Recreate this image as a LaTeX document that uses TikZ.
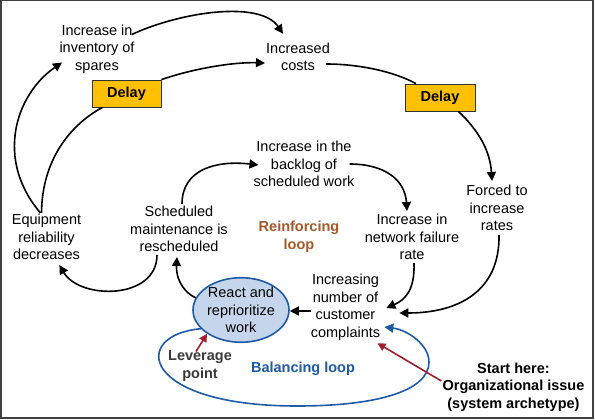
\documentclass[tikz,border=0pt]{standalone}
\usepackage{fontspec}
\setmainfont{Liberation Sans}
\usetikzlibrary{arrows.meta,shapes.geometric,calc}
\definecolor{delayfill}{HTML}{FFC000}
\definecolor{loopblue}{HTML}{1F5AA6}
\definecolor{reactfill}{HTML}{C5D6EC}
\definecolor{reinfcol}{HTML}{A65A28}
\definecolor{levred}{HTML}{A31D2B}
\definecolor{levgray}{HTML}{3A3A3A}
\begin{document}
\begin{tikzpicture}[x=1pt,y=-1pt,
  lbl/.style={align=center,inner sep=0pt,font=\fontsize{14.5}{17.5}\selectfont},
  blbl/.style={lbl,font=\fontsize{14.5}{17.5}\selectfont\bfseries},
  delaybox/.style={draw=black!80,line width=0.8pt,fill=delayfill,minimum width=69pt,minimum height=27pt,inner sep=0pt,font=\fontsize{14.5}{17.5}\selectfont\bfseries},
  arr/.style={line width=1.6pt,-{Triangle[length=9pt,width=9pt]}},
  plain/.style={line width=1.6pt},
  bluearr/.style={arr,draw=loopblue,-{Triangle[length=9pt,width=9pt,color=loopblue]}},
  redarr/.style={line width=1.6pt,draw=levred,-{Triangle[length=8pt,width=8pt,color=levred]}}
]
\useasboundingbox (0,0) rectangle (595,420);
\draw[line width=1.5pt,draw=black!75] (0.75,0.75) rectangle (592.75,418);

% nodes
\node[lbl] (inv) at (97,49) {Increase in\\inventory of\\spares};
\node[lbl] (costs) at (298,57) {Increased\\costs};
\node[delaybox] (delay1) at (126.5,93.5) {Delay};
\node[delaybox,minimum width=70pt] (delay2) at (440,97.5) {Delay};
\node[lbl] (backlog) at (304,164) {Increase in the\\backlog of\\scheduled work};
\node[lbl] (sched) at (179,229) {Scheduled\\maintenance is\\rescheduled};
\node[lbl] (equip) at (46.5,237) {Equipment\\reliability\\decreases};
\node[blbl,text=reinfcol] (reinf) at (299,237) {Reinforcing\\loop};
\node[lbl] (fail) at (412,237) {Increase in\\network failure\\rate};
\node[lbl] (forced) at (497,208) {Forced to\\increase\\rates};
\node[lbl] (compl) at (345.5,307) {Increasing\\number of\\customer\\complaints};
\node[ellipse,draw=loopblue,line width=1.6pt,fill=reactfill,minimum width=96pt,minimum height=60pt,inner sep=0pt,align=center,font=\fontsize{14.5}{17.5}\selectfont] (react) at (241,310) {React and\\reprioritize\\work};
\node[blbl,text=levgray] (lev) at (200,366) {Leverage\\point};
\node[blbl,text=loopblue] (bal) at (303,369) {Balancing loop};
\node[blbl] (start) at (513.5,387) {Start here:\\Organizational issue\\(system archetype)};

% connectors
\draw[arr] ([xshift=-6pt,yshift=1pt]equip.north) .. controls (-5,160) and (15,95) .. ([xshift=-35pt,yshift=11pt]inv.south);
\draw[plain] ([xshift=-5pt,yshift=1pt]equip.north) .. controls (42,160) and (70,125) .. (delay1.-150);
\draw[arr] (delay1.north east) .. controls (195,68) and (235,62) .. ([xshift=-1pt,yshift=-6pt]costs.west);
\draw[arr] ([xshift=-3pt,yshift=-10pt]inv.north east) .. controls (180,12) and (260,0) .. ([xshift=-15pt,yshift=9pt]costs.north);
\draw[plain] ([xshift=-4pt,yshift=-7pt]costs.east) .. controls (360,64) and (395,72) .. (delay2.150);
\draw[arr] (delay2.-37) .. controls (478,130) and (490,150) .. ([xshift=-5pt,yshift=4pt]forced.north);
\draw[arr] ([xshift=2pt,yshift=-4pt]forced.south) .. controls (500,290) and (460,313) .. ([xshift=19pt,yshift=-6pt]compl.east);
\draw[arr] ([xshift=2pt,yshift=-3pt]fail.south) .. controls (415,290) and (405,300) .. ([xshift=6pt,yshift=-1pt]compl.east);
\draw[arr] ([xshift=-5pt]backlog.east) .. controls (385,164) and (405,180) .. ([xshift=-5pt,yshift=3pt]fail.north);
\draw[arr] ([xshift=3pt,yshift=2pt]sched.north) .. controls (182,170) and (215,160) .. ([xshift=5pt,yshift=-1pt]backlog.west);
\draw[arr] ([xshift=-22pt,yshift=-3pt]sched.south) .. controls (157,300) and (80,300) .. ([xshift=-22pt,yshift=-5pt]equip.south east);
\draw[arr] (react.165) .. controls (180,290) and (176,275) .. ([xshift=-2pt,yshift=-5pt]sched.south);
\draw[arr] ([yshift=-4pt]compl.west) -- ([yshift=-1pt]react.east);
\draw[bluearr] (react.205) .. controls (130,335) and (140,406) .. (297,406)
  .. controls (380,406) and (429,390) .. (429,362)
  .. controls (429,345) and (408,330) .. ([xshift=4pt,yshift=-20pt]compl.east);
\draw[redarr] ([xshift=-4pt,yshift=-1pt]lev.north) -- (react.215);
\draw[redarr] ([xshift=-1pt,yshift=6pt]start.west) -- ([xshift=32pt,yshift=-3pt]compl.south);
\end{tikzpicture}
\end{document}
